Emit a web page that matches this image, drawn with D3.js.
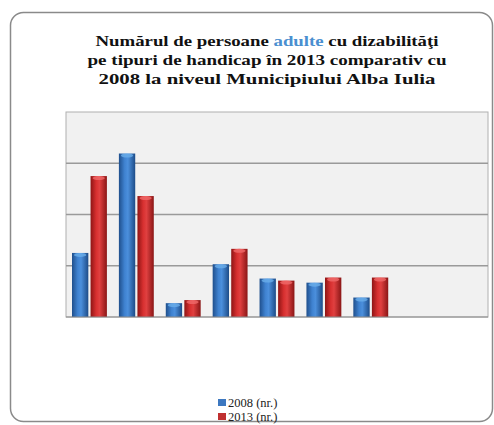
<!DOCTYPE html>
<html><head><meta charset="utf-8">
<script src="https://cdn.jsdelivr.net/npm/d3@7"></script>
<style>html,body{margin:0;padding:0;background:#fff;}svg{display:block;}</style>
</head><body>
<svg id="c" width="494" height="425"></svg>
<script>
const categories = ["fizic","somatic","auditiv","vizual","mental","psihic","asociat","HIV/SIDA","boli rare"];
const values2008 = [125, 319, 27, 103, 75, 67, 38, 0, 0];
const values2013 = [275, 236, 33, 133, 71, 77, 77, 0, 0];
const seriesNames = ["2008 (nr.)", "2013 (nr.)"];
const yTicks = [0, 100, 200, 300, 400];
const SERIF = "'Liberation Serif', 'Times New Roman', Times, 'DejaVu Serif', 'Noto Serif', serif";

const svg = d3.select("#c");
const defs = svg.append("defs");
function grad(id, stops){
  const g = defs.append("linearGradient").attr("id", id).attr("x1","0").attr("x2","1").attr("y1","0").attr("y2","0");
  stops.forEach(s=>g.append("stop").attr("offset",s[0]).attr("stop-color",s[1]));
}
grad("gb", [[0,"#1f4f8c"],[0.35,"#3f82d0"],[0.55,"#4b8fdc"],[1,"#1d4c88"]]);
grad("gr", [[0,"#8e1515"],[0.35,"#d83030"],[0.55,"#e04040"],[1,"#8a1616"]]);

// outer frame
svg.append("rect").attr("x",10.5).attr("y",12.5).attr("width",482).attr("height",409)
  .attr("rx",13).attr("fill","#fff").attr("stroke","#8a8a8a").attr("stroke-width",1.5);

// title
const titleLines = [
  [["Numărul de persoane ","#111"],["adulte","#4a8fd0"],[" cu dizabilităţi","#111"]],
  [["pe tipuri  de handicap în 2013 comparativ cu","#111"]],
  [["2008 la niveul Municipiului  Alba Iulia","#111"]]
];
const titleY = [46, 65, 84];
const titleW = [343, 359, 337];
titleLines.forEach((parts,i)=>{
  const t = svg.append("text").attr("x",267).attr("y",titleY[i]).attr("text-anchor","middle")
    .style("font-family",SERIF).attr("font-weight","bold").attr("font-size",15.5)
    .attr("textLength",titleW[i]).attr("lengthAdjust","spacingAndGlyphs");
  parts.forEach(p=>t.append("tspan").attr("fill",p[1]).text(p[0]));
});

const m = {l:66, t:112, r:488, b:317};
const x = d3.scaleBand().domain(categories).range([m.l, m.r]).paddingInner(0).paddingOuter(0);
const y = d3.scaleLinear().domain([0, 400]).range([m.b, m.t]);

svg.append("rect").attr("x",m.l).attr("y",m.t).attr("width",m.r-m.l).attr("height",m.b-m.t)
  .attr("fill","#f1f1f1").attr("stroke","#b0b0b0").attr("stroke-width",1);

svg.append("g").selectAll("line").data(yTicks.slice(1,-1)).join("line")
  .attr("x1",m.l).attr("x2",m.r).attr("y1",d=>y(d)).attr("y2",d=>y(d))
  .attr("stroke","#9a9a9a").attr("stroke-width",1.5);

const inner = d3.scaleBand().domain([0,1]).range([6, x.bandwidth()-6]).paddingInner(0.12);
const series = [values2008, values2013];
const fills = ["url(#gb)","url(#gr)"];
const tops = ["#6aaeea","#f06a6a"];
series.forEach((vals,si)=>{
  const g = svg.append("g");
  const data = categories.map((c,i)=>({c, v:vals[i]})).filter(d=>d.v>0);
  g.selectAll("rect").data(data).join("rect")
    .attr("x",d=>x(d.c)+inner(si)).attr("width",inner.bandwidth())
    .attr("y",d=>y(d.v)).attr("height",d=>y(0)-y(d.v))
    .attr("fill",fills[si]);
  g.selectAll("ellipse").data(data).join("ellipse")
    .attr("cx",d=>x(d.c)+inner(si)+inner.bandwidth()/2).attr("cy",d=>y(d.v)+2)
    .attr("rx",inner.bandwidth()/2-2).attr("ry",2).attr("fill",tops[si]).attr("opacity",0.8);
});

svg.append("line").attr("x1",m.l).attr("x2",m.r).attr("y1",m.b).attr("y2",m.b)
  .attr("stroke","#8a8a8a").attr("stroke-width",1.2);

// legend
const legendCols = ["#3d78c0","#c03030"];
seriesNames.forEach((n,i)=>{
  const yy = 407 + i*14;
  svg.append("rect").attr("x",218).attr("y",yy-8).attr("width",8).attr("height",7).attr("fill",legendCols[i]);
  svg.append("text").attr("x",228).attr("y",yy).style("font-family",SERIF)
    .attr("font-size",12.5).attr("fill","#222").text(n);
});
</script>
</body></html>
